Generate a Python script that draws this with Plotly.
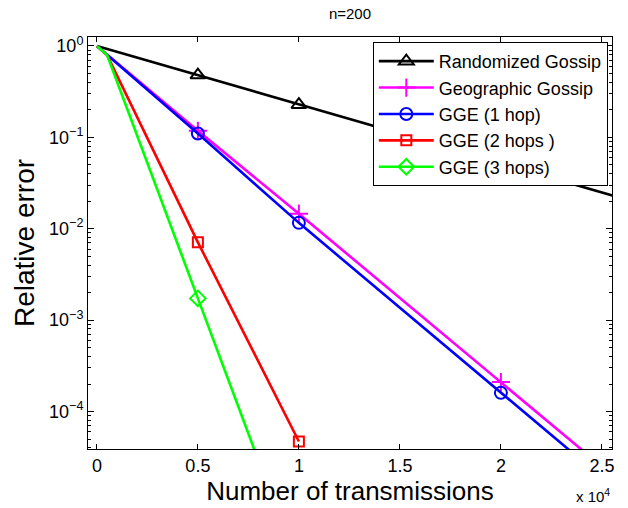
import plotly.graph_objects as go

# ---- data ----
series_names = ["Randomized Gossip", "Geographic Gossip", "GGE (1 hop)", "GGE (2 hops )", "GGE (3 hops)"]
x_rand = [0, 5000, 10000, 15000, 20000, 25000, 30000]
y_rand = [1.0, 0.48, 0.228, 0.11, 0.052, 0.025, 0.012]
x_geo = [0, 5000, 10000, 15000, 20000, 25000]
y_geo = [1.0, 0.118, 0.0146, 0.00175, 0.00021, 0.000025]
x_gge1 = [0, 5000, 10000, 15000, 20000, 25000]
y_gge1 = [1.0, 0.11, 0.0116, 0.00137, 0.00016, 0.000019]
x_gge2 = [0, 500, 5000, 9500, 10000]
y_gge2 = [1.0, 0.8, 0.0071, 0.000075, 0.000047]
x_gge3 = [0, 500, 5000, 10000]
y_gge3 = [1.0, 0.8, 0.00173, 0.0000019]
marker_x = [5000, 10000, 20000]

x_tickvals = [0, 5000, 10000, 15000, 20000, 25000]
x_ticktext = ["0", "0.5", "1", "1.5", "2", "2.5"]
y_tickvals = [1, 0.1, 0.01, 0.001, 0.0001]
y_ticktext = ["10<sup>0</sup>", "10<sup>\u22121</sup>", "10<sup>\u22122</sup>", "10<sup>\u22123</sup>", "10<sup>\u22124</sup>"]

colors = ["#000000", "#ff00ff", "#0000ff", "#ff0000", "#00ff00"]
symbols = ["triangle-up-open", "cross-thin-open", "circle-open", "square-open", "diamond-open"]
msizes = [13, 13, 12, 10, 12]

data = [(x_rand, y_rand), (x_geo, y_geo), (x_gge1, y_gge1), (x_gge2, y_gge2), (x_gge3, y_gge3)]

fig = go.Figure()
for (xs, ys), name, c, s, ms in zip(data, series_names, colors, symbols, msizes):
    fig.add_trace(go.Scatter(x=xs, y=ys, mode="lines", line=dict(color=c, width=2.6),
                             showlegend=False, hoverinfo="skip"))
    mx = [xv for xv in xs if xv in marker_x]
    my = [yv for xv, yv in zip(xs, ys) if xv in marker_x]
    fig.add_trace(go.Scatter(x=mx, y=my, mode="markers",
                             marker=dict(symbol=s, size=ms, color=c, line=dict(color=c, width=2)),
                             showlegend=False))
for name, c, s, ms in zip(series_names, colors, symbols, msizes):
    fig.add_trace(go.Scatter(x=[None], y=[None], mode="lines+markers", name=name,
                             line=dict(color=c, width=2.6),
                             marker=dict(symbol=s, size=ms, color=c, line=dict(color=c, width=2))))
# invisible trace to activate right-hand mirror axis (for minor ticks)
fig.add_trace(go.Scatter(x=[None], y=[None], yaxis="y2", showlegend=False, hoverinfo="skip"))

minor_y = []
for e in range(-5, 1):
    for k in range(2, 10):
        minor_y.append(k * 10 ** e)

yrange = [-4.41, 0.098]
fig.update_layout(
    width=628, height=508,
    margin=dict(l=88, r=16, t=37, b=56),
    paper_bgcolor="white", plot_bgcolor="white",
    font=dict(family="Liberation Sans, Arial, sans-serif", color="black", size=18),
    title=dict(text="n=200", x=0.5, xanchor="center", xref="paper", y=0.972, yanchor="middle",
               font=dict(size=15)),
    showlegend=True,
    legend=dict(x=0.992, xanchor="right", y=0.988, yanchor="top",
                bgcolor="white", bordercolor="black", borderwidth=1,
                font=dict(size=18), itemwidth=55, tracegroupgap=0),
    xaxis=dict(range=[-440, 25500], tickvals=x_tickvals, ticktext=x_ticktext,
               ticks="inside", ticklen=5, tickcolor="black", showline=True, linecolor="black",
               linewidth=1, mirror="ticks", showgrid=False, zeroline=False,
               title=dict(text="Number of transmissions", font=dict(size=26), standoff=2),
               tickfont=dict(size=18)),
    yaxis=dict(type="log", range=yrange, tickvals=y_tickvals, ticktext=y_ticktext,
               ticks="inside", ticklen=6, tickcolor="black", showline=True, linecolor="black",
               linewidth=1, mirror="ticks", showgrid=False, zeroline=False,
               minor=dict(tickvals=minor_y, ticks="inside", ticklen=3, tickcolor="black", showgrid=False),
               title=dict(text="Relative error", font=dict(size=28), standoff=6),
               tickfont=dict(size=18)),
    yaxis2=dict(type="log", range=yrange, overlaying="y", side="right", tickvals=y_tickvals,
                showticklabels=False, ticks="inside", ticklen=6, tickcolor="black",
                showline=False, showgrid=False, zeroline=False,
                minor=dict(tickvals=minor_y, ticks="inside", ticklen=3, tickcolor="black", showgrid=False)),
    annotations=[dict(text="x 10<sup>4</sup>", xref="paper", yref="paper", x=1.0, y=-0.085,
                      xanchor="right", yanchor="top", showarrow=False, font=dict(size=15))],
)

fig.write_html("out.html")
